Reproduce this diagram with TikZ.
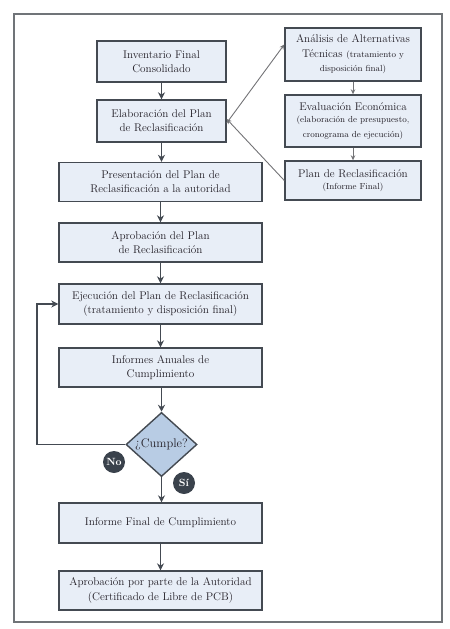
\documentclass[tikz,border=0pt]{standalone}
\usetikzlibrary{positioning,arrows.meta,shapes.geometric}
\definecolor{boxfill}{RGB}{232,238,247}
\definecolor{boxline}{RGB}{68,74,82}
\definecolor{inkdark}{RGB}{36,32,40}
\definecolor{diafill}{RGB}{184,204,228}
\definecolor{badgedark}{RGB}{58,66,76}
\definecolor{framegray}{RGB}{112,116,120}
\definecolor{thingray}{RGB}{115,115,118}

\begin{document}
\begin{tikzpicture}[x=1bp,y=-1bp,
    procbox/.style={draw=boxline,fill=boxfill,line width=1.4bp,align=center,
      text=inkdark,inner sep=0pt,font=\fontsize{11.2}{14.5}\selectfont},
    widebox/.style={procbox,minimum width=203bp,minimum height=39bp},
    sidebox/.style={procbox,minimum width=136bp},
    flowarrow/.style={draw=boxline,line width=1.4bp,
      -{Stealth[length=7bp,width=7bp]}},
    thinarrow/.style={draw=thingray,line width=0.9bp,
      -{Stealth[length=5bp,width=4.5bp]}},
    badge/.style={circle,fill=badgedark,text=white,inner sep=0pt,
      minimum size=22bp,font=\fontsize{10.5}{10.5}\selectfont\bfseries}]
  \useasboundingbox (0,0) rectangle (450,629);
  \draw[framegray,line width=2bp] (14,14) rectangle (442,622);

  % main column
  \node[procbox,minimum width=129bp,minimum height=41bp] (inv) at (161.5,61.5)
    {Inventario Final\\Consolidado};
  \node[procbox,minimum width=129bp,minimum height=42bp] (elab) at (161.5,121)
    {Elaboración del Plan\\de Reclasificación};
  \node[widebox] (pres) at (160.5,182)
    {Presentación del Plan de\\Reclasificación a la autoridad};
  \node[widebox] (aprob) at (160.5,242.5)
    {Aprobación del Plan\\de Reclasificación};
  \node[widebox,minimum height=40bp] (ejec) at (160.5,304)
    {Ejecución del Plan de Reclasificación\\(tratamiento y disposición final)};
  \node[widebox] (anual) at (160.5,367.5)
    {Informes Anuales de\\Cumplimiento};
  \node[diamond,draw=boxline,fill=diafill,line width=1.4bp,inner sep=0pt,
        minimum width=71bp,minimum height=63bp,text=inkdark,
        font=\fontsize{12.5}{12.5}\selectfont] (cumple) at (161.5,444.5) {¿Cumple?};
  \node[widebox,minimum height=40bp] (inffin) at (160.5,523)
    {Informe Final de Cumplimiento};
  \node[widebox] (aprobaut) at (160.5,590.5)
    {Aprobación por parte de la Autoridad\\(Certificado de Libre de PCB)};

  % side column
  \node[sidebox,minimum height=53bp] (analisis) at (353,54.5)
    {Análisis de Alternativas\\Técnicas {\fontsize{8.8}{12}\selectfont(tratamiento y}\\
     {\fontsize{8.8}{12}\selectfont disposición final)}};
  \node[sidebox,minimum height=52bp] (evalua) at (353,121)
    {Evaluación Económica\\[-2bp]
     {\fontsize{8.8}{12}\selectfont(elaboración de presupuesto,}\\
     {\fontsize{8.8}{12}\selectfont cronograma de ejecución)}};
  \node[sidebox,minimum height=39bp] (planrec) at (353,180.5)
    {Plan de Reclasificación\\[-2bp]
     {\fontsize{8.8}{12}\selectfont(Informe Final)}};

  \node[badge] (no) at (114,462) {No};
  \node[badge] (si) at (184,483) {Sí};

  \coordinate (loopx) at (37,0);

  % connectors
  \draw[flowarrow] (inv) -- (elab);
  \draw[flowarrow] (elab.south) -- (elab.south |- pres.north);
  \draw[flowarrow] (pres) -- (aprob);
  \draw[flowarrow] (aprob) -- (ejec);
  \draw[flowarrow] (ejec) -- (anual);
  \draw[flowarrow] (anual.south -| cumple.north) -- (cumple.north);
  \draw[flowarrow] (cumple.south) -- (cumple.south |- inffin.north);
  \draw[flowarrow] ([yshift=2bp]inffin.south) -- (aprobaut.north);
  \draw[flowarrow] (cumple.west) -- (cumple.west -| loopx) |- (ejec.west);

  \draw[thinarrow] ([yshift=-2bp]elab.east) -- ([yshift=10bp]analisis.west);
  \draw[thinarrow] (analisis) -- (evalua);
  \draw[thinarrow] (evalua) -- (planrec);
  \draw[thinarrow] (planrec.west) -- ([yshift=2bp]elab.east);
\end{tikzpicture}
\end{document}
